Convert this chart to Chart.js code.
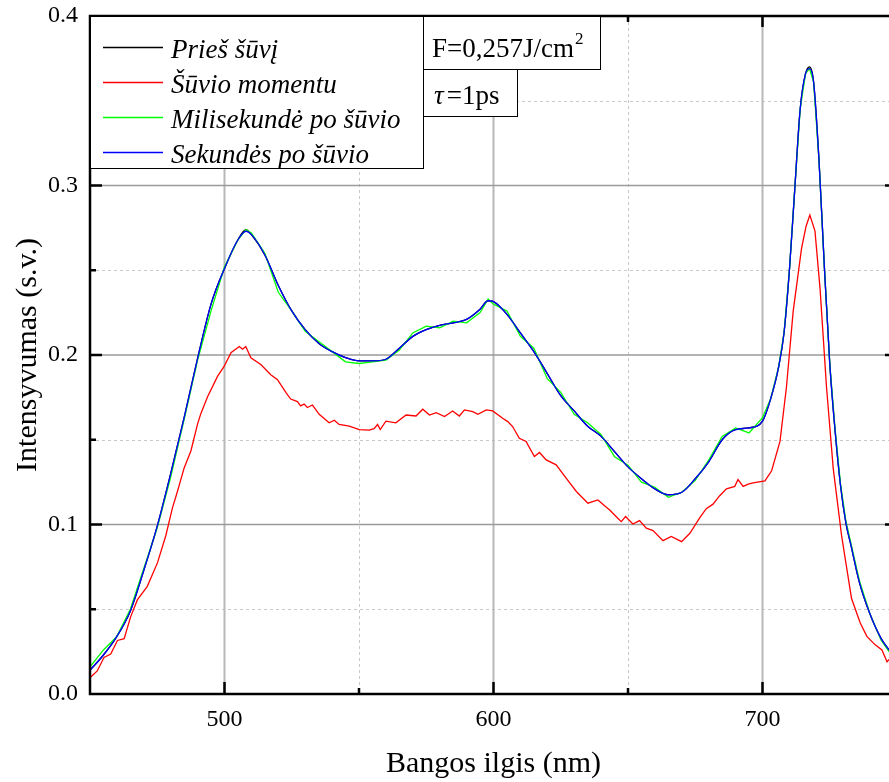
<!doctype html>
<html lang="lt">
  <head>
    <meta charset="UTF-8" />
    <title>Intensyvumas</title>
    <script src="https://cdn.jsdelivr.net/npm/chart.js@4"></script>
    <style>
      html,
      body {
        margin: 0;
        overflow: hidden;
        background: #fff;
      }
      #wrap {
        width: 900px;
        height: 782px;
      }
    </style>
  </head>
  <body>
    <div id="wrap"><canvas id="spectrum"></canvas></div>

    <script>
      // wavelength grid (nm) for the smooth curves
      const wl = [
        450, 455, 460, 465, 470, 475, 480, 485, 490, 495, 500, 505, 508, 510,
        515, 520, 525, 530, 535, 540, 545, 550, 555, 560, 565, 570, 575, 580,
        585, 590, 595, 598, 600, 605, 610, 615, 620, 625, 630, 635, 640, 645,
        650, 655, 660, 665, 670, 675, 680, 685, 690, 695, 700, 703, 706, 708,
        710, 712, 714, 716, 717.5, 719, 721, 723, 725, 727, 729, 731, 733, 736,
        740, 744, 747.5,
      ];
      // Prieš šūvį (black)
      const priesSuvi = [
        0.014, 0.023, 0.034, 0.049, 0.073, 0.099, 0.13, 0.163, 0.198, 0.23,
        0.251, 0.268, 0.274, 0.271, 0.259, 0.241, 0.226, 0.215, 0.207, 0.202,
        0.1985, 0.1965, 0.1965, 0.1975, 0.204, 0.211, 0.215, 0.2175, 0.219,
        0.221, 0.227, 0.232, 0.2315, 0.224, 0.213, 0.202, 0.189, 0.176, 0.167,
        0.158, 0.152, 0.143, 0.134, 0.127, 0.121, 0.1175, 0.119, 0.127, 0.137,
        0.15, 0.156, 0.157, 0.161, 0.174, 0.193, 0.213, 0.25, 0.298, 0.345,
        0.366, 0.37, 0.361, 0.315, 0.252, 0.195, 0.155, 0.123, 0.101, 0.087,
        0.066, 0.047, 0.033, 0.025,
      ];
      // Milisekundė po šūvio (green)
      const milisekunde = [
        0.016, 0.026, 0.034, 0.05, 0.074, 0.098, 0.128, 0.162, 0.197, 0.226,
        0.252, 0.268, 0.274, 0.272, 0.26, 0.237, 0.226, 0.214, 0.208, 0.202,
        0.196, 0.195, 0.196, 0.197, 0.203, 0.213, 0.217, 0.216, 0.22, 0.219,
        0.225, 0.233, 0.23, 0.226, 0.211, 0.204, 0.186, 0.178, 0.165, 0.16,
        0.153, 0.14, 0.135, 0.125, 0.122, 0.116, 0.119, 0.126, 0.138, 0.152,
        0.157, 0.154, 0.163, 0.174, 0.193, 0.213, 0.25, 0.298, 0.345, 0.366,
        0.369, 0.361, 0.315, 0.252, 0.195, 0.156, 0.124, 0.102, 0.088, 0.067,
        0.047, 0.032, 0.024,
      ];
      // Sekundės po šūvio (blue)
      const sekundes = [
        0.014, 0.023, 0.034, 0.049, 0.073, 0.099, 0.13, 0.163, 0.198, 0.23,
        0.251, 0.268, 0.273, 0.271, 0.259, 0.241, 0.226, 0.215, 0.207, 0.202,
        0.1985, 0.1965, 0.1965, 0.1975, 0.204, 0.211, 0.215, 0.2175, 0.219,
        0.221, 0.227, 0.232, 0.2315, 0.224, 0.213, 0.202, 0.189, 0.176, 0.167,
        0.158, 0.152, 0.143, 0.134, 0.127, 0.121, 0.1175, 0.119, 0.127, 0.137,
        0.15, 0.156, 0.157, 0.161, 0.174, 0.193, 0.213, 0.25, 0.298, 0.345,
        0.366, 0.369, 0.361, 0.315, 0.252, 0.195, 0.155, 0.123, 0.101, 0.087,
        0.066, 0.047, 0.033, 0.025,
      ];

      // Šūvio momentu (red) has its own, denser grid
      const wlRed = [
        450, 452.7, 455.2, 457.7, 460.2, 462.7, 465.1, 467.6, 471.3, 475.1,
        478.2, 480.6, 482.5, 485, 487.5, 490, 491.2, 493.7, 497.4, 499.9,
        502.4, 505.5, 506.7, 507.9, 509.8, 513.5, 517.2, 519.7, 522.8, 524.6,
        527.1, 528.3, 529.6, 530.8, 532.7, 535.2, 538.9, 540.8, 542.6, 546.4,
        550.1, 553.8, 555.6, 556.9, 557.9, 560, 563.7, 567.5, 571.2, 573.7,
        576.2, 578.7, 581.8, 584.8, 587.3, 589.2, 592.3, 594.2, 597.3, 599.7,
        603.4, 605.3, 607.1, 609.6, 612.1, 615.2, 617.1, 619.6, 623.3, 627,
        630.8, 635.1, 638.8, 641.3, 643.2, 646.2, 647.5, 649.1, 651.8, 654.3,
        656.8, 659.3, 663, 666.1, 669.9, 673, 676.7, 679.1, 681.6, 684.1,
        686.6, 689.7, 690.9, 692.8, 694.7, 696.5, 700.9, 703.4, 706.5, 708.9,
        711.4, 714.5, 716.2, 717.6, 719.5, 721.4, 723.8, 726.3, 729.4, 733.1,
        736.3, 738.8, 741.9, 744.4, 746.3, 747.5,
      ];
      const suvioMomentu = [
        0.0096, 0.0136, 0.0216, 0.0236, 0.0316, 0.0326, 0.0455, 0.0555,
        0.0635, 0.0775, 0.0935, 0.1095, 0.1195, 0.1334, 0.1434, 0.1594,
        0.1654, 0.1754, 0.1874, 0.1934, 0.2014, 0.205, 0.2034, 0.205, 0.1984,
        0.1944, 0.1884, 0.1854, 0.178, 0.174, 0.1725, 0.17, 0.171, 0.169,
        0.1705, 0.165, 0.16, 0.1615, 0.159, 0.158, 0.156, 0.1557, 0.1566,
        0.159, 0.156, 0.161, 0.16, 0.1646, 0.164, 0.168, 0.1646, 0.166, 0.1637,
        0.167, 0.164, 0.1676, 0.1666, 0.165, 0.1676, 0.167, 0.1627, 0.1607,
        0.1578, 0.1509, 0.149, 0.1401, 0.1425, 0.1381, 0.1352, 0.1273, 0.1195,
        0.1126, 0.1145, 0.111, 0.1086, 0.1037, 0.1017, 0.1047, 0.1003, 0.1023,
        0.0978, 0.0964, 0.0905, 0.0929, 0.0899, 0.0948, 0.104, 0.1093, 0.112,
        0.117, 0.121, 0.1225, 0.1265, 0.1225, 0.1238, 0.1246, 0.1257, 0.1317,
        0.149, 0.181, 0.2257, 0.2627, 0.276, 0.2825, 0.2733, 0.239, 0.181,
        0.133, 0.0934, 0.0563, 0.042, 0.034, 0.029, 0.026, 0.019, 0.021,
      ];

      const xMajor = [500, 600, 700];
      const xMinor = [550, 650];
      const yMajor = [0.1, 0.2, 0.3];
      const yMinor = [0.05, 0.15, 0.25, 0.35];
      const yTicks = [0, 0.1, 0.2, 0.3, 0.4];

      const serif = "'Liberation Serif', 'Times New Roman', serif";

      const pts = (xs, ys) => xs.map((x, i) => ({ x: x, y: ys[i] }));

      const series = [
        { label: "Prieš šūvį", xs: wl, ys: priesSuvi, color: "#000000", smooth: true },
        { label: "Šūvio momentu", xs: wlRed, ys: suvioMomentu, color: "#ff0000", smooth: false },
        { label: "Milisekundė po šūvio", xs: wl, ys: milisekunde, color: "#00ff00", smooth: false },
        { label: "Sekundės po šūvio", xs: wl, ys: sekundes, color: "#0000ff", smooth: true },
      ];

      function line(ctx, x1, y1, x2, y2) {
        ctx.beginPath();
        ctx.moveTo(x1, y1);
        ctx.lineTo(x2, y2);
        ctx.stroke();
      }

      const framePlugin = {
        id: "frame",
        beforeDatasetsDraw(chart) {
          const { ctx, chartArea: a, scales } = chart;
          const x = scales.x, y = scales.y;
          ctx.save();
          // dotted minor grid
          ctx.strokeStyle = "#c8c8c8";
          ctx.lineWidth = 1;
          ctx.setLineDash([3, 3]);
          xMinor.forEach((v) => {
            const px = Math.round(x.getPixelForValue(v)) + 0.5;
            line(ctx, px, a.top, px, a.bottom);
          });
          yMinor.forEach((v) => {
            const py = Math.round(y.getPixelForValue(v)) + 0.5;
            line(ctx, a.left, py, a.right, py);
          });
          ctx.setLineDash([]);
          // major grid
          ctx.strokeStyle = "#b8b8b8";
          ctx.lineWidth = 2;
          xMajor.forEach((v) => {
            const px = x.getPixelForValue(v);
            line(ctx, px, a.top, px, a.bottom);
          });
          ctx.strokeStyle = "#9a9a9a";
          ctx.lineWidth = 1.5;
          yMajor.forEach((v) => {
            const py = y.getPixelForValue(v);
            line(ctx, a.left, py, a.right, py);
          });
          ctx.restore();
        },
        afterDatasetsDraw(chart) {
          const { ctx, chartArea: a, scales } = chart;
          const x = scales.x, y = scales.y;
          ctx.save();
          ctx.strokeStyle = "#000";
          // ticks pointing inward on all four sides
          ctx.lineWidth = 2.5;
          xMajor.forEach((v) => {
            const px = x.getPixelForValue(v);
            line(ctx, px, a.bottom, px, a.bottom - 12);
            line(ctx, px, a.top, px, a.top + 11);
          });
          xMinor.forEach((v) => {
            const px = x.getPixelForValue(v);
            line(ctx, px, a.bottom, px, a.bottom - 6);
            line(ctx, px, a.top, px, a.top + 6);
          });
          yMajor.forEach((v) => {
            const py = y.getPixelForValue(v);
            line(ctx, a.left, py, a.left + 12, py);
            line(ctx, a.right, py, a.right - 12, py);
          });
          yMinor.forEach((v) => {
            const py = y.getPixelForValue(v);
            line(ctx, a.left, py, a.left + 6, py);
            line(ctx, a.right, py, a.right - 6, py);
          });
          // axes
          ctx.lineWidth = 2.5;
          ctx.strokeRect(a.left, a.top, a.right - a.left, a.bottom - a.top);

          // legend box
          ctx.lineWidth = 1;
          ctx.fillStyle = "#fff";
          ctx.fillRect(a.left + 1, a.top + 1, 333, 151);
          ctx.strokeRect(a.left + 0.5, a.top + 0.5, 333, 152);
          ctx.font = "italic 27px " + serif;
          ctx.textBaseline = "alphabetic";
          ctx.textAlign = "left";
          series.forEach((s, i) => {
            const ly = Math.round(a.top + 31 + i * 35) + 0.5;
            ctx.strokeStyle = s.color;
            ctx.lineWidth = 1.5;
            line(ctx, a.left + 13, ly, a.left + 73, ly);
            ctx.fillStyle = "#000";
            ctx.fillText(s.label, a.left + 81, ly + 10);
          });

          // fluence box
          const bx = a.left + 333;
          ctx.fillStyle = "#fff";
          ctx.strokeStyle = "#000";
          ctx.lineWidth = 1;
          ctx.fillRect(bx, a.top + 1, 177, 52);
          ctx.strokeRect(bx + 0.5, a.top + 0.5, 177, 53);
          ctx.fillStyle = "#000";
          ctx.font = "27px " + serif;
          const fTxt = "F=0,257J/cm";
          ctx.fillText(fTxt, bx + 9, a.top + 41);
          const fw = ctx.measureText(fTxt).width;
          ctx.font = "17px " + serif;
          ctx.fillText("2", bx + 9 + fw + 1, a.top + 28);

          // pulse duration box
          ctx.fillStyle = "#fff";
          ctx.fillRect(bx, a.top + 54, 94, 46);
          ctx.strokeRect(bx + 0.5, a.top + 53.5, 94, 47);
          ctx.fillStyle = "#000";
          ctx.font = "italic 27px " + serif;
          ctx.fillText("τ", bx + 11, a.top + 88);
          const tw = ctx.measureText("τ").width;
          ctx.font = "27px " + serif;
          ctx.fillText("=1ps", bx + 11 + tw + 3, a.top + 88);
          ctx.restore();
        },
      };

      const ctx = document.getElementById("spectrum").getContext("2d");
      const chart = new Chart(ctx, {
        type: "line",
        data: {
          datasets: series.map((s, i) => ({
            label: s.label,
            data: pts(s.xs, s.ys),
            borderColor: s.color,
            backgroundColor: s.color,
            borderWidth: 1.3,
            pointRadius: 0,
            tension: 0,
            cubicInterpolationMode: s.smooth ? "monotone" : "default",
            fill: false,
            // later series drawn on top, as in the original plot
            order: series.length - i,
          })),
        },
        options: {
          responsive: true,
          maintainAspectRatio: false,
          animation: false,
          layout: { padding: { top: 16, right: 3, left: 0, bottom: 0 } },
          plugins: {
            legend: { display: false },
            tooltip: { enabled: false },
          },
          scales: {
            x: {
              type: "linear",
              min: 450,
              max: 750,
              grid: { display: false, drawTicks: false },
              border: { display: false },
              afterBuildTicks: (s) => {
                s.ticks = xMajor.map((v) => ({ value: v }));
              },
              afterFit: (s) => {
                s.height = 88;
                s.paddingLeft = 0;
                s.paddingRight = 0;
              },
              ticks: {
                color: "#000",
                padding: 11,
                maxRotation: 0,
                font: { family: serif, size: 24 },
              },
              title: {
                display: true,
                text: "Bangos ilgis (nm)",
                color: "#000",
                padding: { top: 0, bottom: 0 },
                font: { family: serif, size: 30 },
              },
            },
            y: {
              min: 0,
              max: 0.4,
              grid: { display: false, drawTicks: false },
              border: { display: false },
              afterBuildTicks: (s) => {
                s.ticks = yTicks.map((v) => ({ value: v }));
              },
              afterFit: (s) => {
                s.width = 90;
                s.paddingTop = 0;
                s.paddingBottom = 0;
              },
              ticks: {
                color: "#000",
                padding: 12,
                font: { family: serif, size: 24 },
                callback: (v) => v.toFixed(1),
              },
              title: {
                display: true,
                text: "Intensyvumas (s.v.)",
                color: "#000",
                padding: { top: 10, bottom: 0 },
                font: { family: serif, size: 30 },
              },
            },
          },
        },
        plugins: [framePlugin],
      });
    </script>
  </body>
</html>
